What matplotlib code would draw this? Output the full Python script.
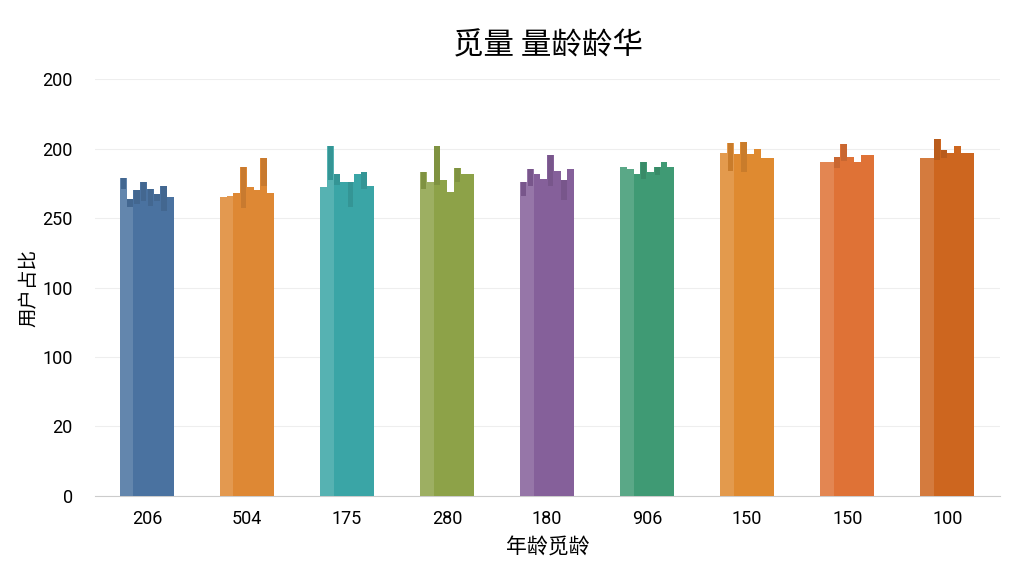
import numpy as np
import matplotlib.pyplot as plt
from matplotlib.colors import to_rgb

plt.rcParams['font.family'] = ['Noto Sans CJK SC', 'DejaVu Sans']

# Data
categories = ['206', '504', '175', '280', '180', '906', '150', '150', '100']
colors = ['#4a72a0', '#de8834', '#3aa5a6', '#8da248', '#85609a',
          '#3f9a74', '#df8a30', '#df7236', '#cd661f']
# heights of the thin columns inside each group (left to right)
col_heights = [
    [229, 214, 220, 226, 221, 217, 223, 215],
    [215, 216, 218, 237, 222, 220, 243, 218],
    [222, 252, 232, 226, 226, 232, 233, 223],
    [233, 226, 252, 227, 219, 236, 232, 232],
    [226, 235, 232, 228, 245, 234, 227, 235],
    [237, 235, 232, 240, 233, 237, 240, 237],
    [247, 254, 246, 255, 246, 250, 243, 243],
    [240, 240, 244, 253, 244, 240, 245, 245],
    [243, 243, 257, 249, 247, 252, 247, 247],
]
# darker caps at the top of some columns (length, 0 = none)
cap_lengths = [
    [8, 6, 10, 14, 12, 5, 18, 0],
    [0, 0, 0, 30, 0, 0, 20, 0],
    [0, 25, 8, 0, 18, 0, 12, 0],
    [12, 0, 28, 0, 0, 10, 0, 0],
    [10, 12, 0, 0, 22, 0, 14, 0],
    [0, 0, 0, 12, 0, 6, 0, 0],
    [0, 20, 0, 22, 0, 0, 0, 0],
    [0, 0, 8, 12, 0, 0, 0, 0],
    [0, 0, 15, 6, 0, 0, 0, 0],
]
ytick_vals = [0, 50, 100, 150, 200, 250, 300]
ytick_labels = ['0', '20', '100', '100', '250', '200', '200']


def shade(c, f):
    r, g, b = to_rgb(c)
    if f >= 0:
        return (r + (1 - r) * f, g + (1 - g) * f, b + (1 - b) * f)
    return (r * (1 + f), g * (1 + f), b * (1 + f))


fig = plt.figure(figsize=(10.24, 5.76), dpi=100)
ax = fig.add_axes([0.0928, 0.1389, 0.884, 0.7239])

group_w = 0.54
for i, (hs, caps, c) in enumerate(zip(col_heights, cap_lengths, colors)):
    n = len(hs)
    w = group_w / n
    xs = i - group_w / 2 + w / 2 + np.arange(n) * w
    for j, (x, h, cap) in enumerate(zip(xs, hs, caps)):
        f = 0.14 if j < 2 else 0.0
        ax.bar(x, h, width=w * 1.02, color=shade(c, f), zorder=3,
               linewidth=0)
        if cap > 0:
            ax.bar(x, cap, bottom=h - cap, width=w * 0.8,
                   color=shade(c, -0.1), zorder=4, linewidth=0)

ax.set_xlim(-0.52, 8.53)
ax.set_ylim(0, 300)
ax.set_xticks(range(len(categories)))
ax.set_xticklabels(categories, fontsize=13, family=['Roboto', 'DejaVu Sans'])
ax.set_yticks(ytick_vals)
ax.set_yticklabels(ytick_labels, fontsize=13, family=['Roboto', 'DejaVu Sans'])
ax.tick_params(length=0)
ax.tick_params(axis='x', pad=10)
ax.tick_params(axis='y', pad=16)
ax.grid(axis='y', color='#eeeeee', linewidth=0.8, zorder=0)
for s in ['top', 'right', 'left']:
    ax.spines[s].set_visible(False)
ax.spines['bottom'].set_color('#cccccc')

ax.set_title('觅量 量龄龄华', fontsize=22, pad=18)
ax.set_xlabel('年龄觅龄', fontsize=15, labelpad=6)
ax.set_ylabel('用户占比', fontsize=14, labelpad=2)

fig.savefig('out.png', dpi=100)
